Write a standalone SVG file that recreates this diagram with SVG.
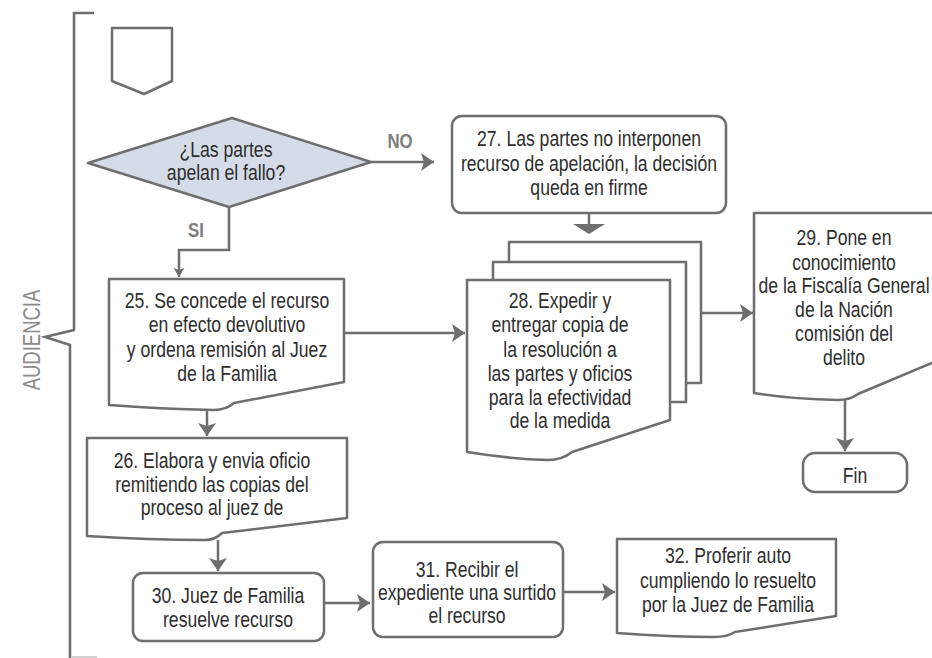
<svg xmlns="http://www.w3.org/2000/svg" width="932" height="658" viewBox="0 0 932 658">
<style>
.s{fill:#fff;stroke:#6e6e6e;stroke-width:2.5;stroke-linejoin:round}
.c{fill:none;stroke:#6e6e6e;stroke-width:2.5}
.t{font-family:"Liberation Sans",Arial,sans-serif;font-size:22px;fill:#2e2e2e;text-anchor:middle}
.lb{font-family:"Liberation Sans",Arial,sans-serif;font-size:20px;font-weight:bold;fill:#7d7d7d;text-anchor:middle}
.au{font-family:"Liberation Sans",Arial,sans-serif;font-size:24px;fill:#8a8a8a;text-anchor:middle}
</style>
<defs>
<marker id="ah" markerUnits="userSpaceOnUse" markerWidth="14" markerHeight="18" refX="13" refY="9" orient="auto">
<path d="M0,0 L13,9 L0,18 L3,9 Z" fill="#6e6e6e"/>
</marker>
<marker id="ahs" markerUnits="userSpaceOnUse" markerWidth="10" markerHeight="12" refX="9" refY="6" orient="auto">
<path d="M0,0.5 L9,6 L0,11.5 L2,6 Z" fill="#6e6e6e"/>
</marker>
</defs>
<rect width="932" height="658" fill="#fff"/>

<g id="brace">
<path class="c" d="M94,13 H74 V330 L45,337 L70,345 V658"/>
<path d="M72,657 H97" stroke="#d0d0d0" stroke-width="2"/>
<text class="au" transform="translate(31,340) rotate(-90) scale(0.77,1)" x="0" y="8.6">AUDIENCIA</text>
</g>

<g id="connectors">
<path class="c" d="M371,162 H434" marker-end="url(#ah)"/>
<path class="c" d="M229,207 V250 H179 V277" marker-end="url(#ahs)"/>
<path class="c" d="M589,213 V226"/>
<polygon points="573,224 605,224 589,234" fill="#6e6e6e"/>
<path class="c" d="M344,333 H465" marker-end="url(#ah)"/>
<path class="c" d="M701,313 H753" marker-end="url(#ah)"/>
<path class="c" d="M845,400 V451" marker-end="url(#ah)"/>
<path class="c" d="M207,410 V436" marker-end="url(#ah)"/>
<path class="c" d="M218,540 V571" marker-end="url(#ah)"/>
<path class="c" d="M324,603 H370" marker-end="url(#ah)"/>
<path class="c" d="M563,592 H615" marker-end="url(#ah)"/>
<text class="lb" transform="translate(400,0) scale(0.84,1)" x="0" y="148">NO</text>
<text class="lb" transform="translate(196,0) scale(0.84,1)" x="0" y="237">SI</text>
</g>

<g id="offpage">
<polygon class="s" points="112,28 172,28 172,81 144,94 112,81"/>
</g>

<g id="decision">
<polygon points="88,163 232,118 371,162 229,207" fill="#d5dce8" stroke="#6e6e6e" stroke-width="2.5" stroke-linejoin="round"/>
<text class="t" transform="translate(226,0) scale(0.8,1)"><tspan x="0" y="157">¿Las partes</tspan><tspan x="0" y="180">apelan el fallo?</tspan></text>
</g>

<g id="n27">
<rect class="s" x="452" y="116" width="274" height="97" rx="10"/>
<text class="t" transform="translate(589,0) scale(0.8,1)"><tspan x="0" y="146.5">27. Las partes no interponen</tspan><tspan x="0" y="171">recurso de apelación, la decisión</tspan><tspan x="0" y="195">queda en firme</tspan></text>
</g>

<g id="n25">
<path class="s" d="M109,279 H344 V382 L234,403 Q226,410 214,410 Q160,409 109,405 Z"/>
<text class="t" transform="translate(227,0) scale(0.8,1)"><tspan x="0" y="308">25. Se concede el recurso</tspan><tspan x="0" y="332.5">en efecto devolutivo</tspan><tspan x="0" y="357">y ordena remisión al Juez</tspan><tspan x="0" y="381">de la Familia</tspan></text>
</g>

<g id="n28">
<rect class="s" x="509" y="242" width="192" height="141"/>
<rect class="s" x="493" y="262" width="193" height="140"/>
<path class="s" d="M467,280 H670 V420 L572,452 Q562,460 548,460 Q510,459 467,452 Z"/>
<text class="t" transform="translate(560,0) scale(0.8,1)"><tspan x="0" y="308">28. Expedir y</tspan><tspan x="0" y="332">entregar copia de</tspan><tspan x="0" y="357">la resolución a</tspan><tspan x="0" y="381">las partes y oficios</tspan><tspan x="0" y="405">para la efectividad</tspan><tspan x="0" y="428">de la medida</tspan></text>
</g>

<g id="n29">
<path class="s" d="M754,213 H960 V351 L858,394 Q850,400 838,400 Q790,399 754,393 Z"/>
<text class="t" transform="translate(844,0) scale(0.8,1)"><tspan x="0" y="245.5">29. Pone en</tspan><tspan x="0" y="270">conocimiento</tspan><tspan x="0" y="293">de la Fiscalía General</tspan><tspan x="0" y="317">de la Nación</tspan><tspan x="0" y="341">comisión del</tspan><tspan x="0" y="365">delito</tspan></text>
</g>

<g id="fin">
<rect class="s" x="803" y="453" width="104" height="39" rx="12"/>
<text class="t" transform="translate(855,0) scale(0.8,1)" x="0" y="483">Fin</text>
</g>

<g id="n26">
<path class="s" d="M87,438 H347 V518 L222,533 Q215,540 205,540 Q150,540 87,536 Z"/>
<text class="t" transform="translate(212,0) scale(0.8,1)"><tspan x="0" y="468">26. Elabora y envia oficio</tspan><tspan x="0" y="492">remitiendo las copias del</tspan><tspan x="0" y="515">proceso al juez de</tspan></text>
</g>

<g id="n30">
<rect class="s" x="133" y="573" width="191" height="68" rx="10"/>
<text class="t" transform="translate(228,0) scale(0.8,1)"><tspan x="0" y="603">30. Juez de Familia</tspan><tspan x="0" y="627">resuelve recurso</tspan></text>
</g>

<g id="n31">
<rect class="s" x="373" y="542" width="190" height="95" rx="10"/>
<text class="t" transform="translate(467,0) scale(0.8,1)"><tspan x="0" y="577">31. Recibir el</tspan><tspan x="0" y="600">expediente una surtido</tspan><tspan x="0" y="623">el recurso</tspan></text>
</g>

<g id="n32">
<path class="s" d="M617,539 H836 V616 L735,632 Q727,637 715,637 Q670,637 617,633 Z"/>
<text class="t" transform="translate(728,0) scale(0.8,1)"><tspan x="0" y="563">32. Proferir auto</tspan><tspan x="0" y="588">cumpliendo lo resuelto</tspan><tspan x="0" y="612">por la Juez de Familia</tspan></text>
</g>
</svg>
